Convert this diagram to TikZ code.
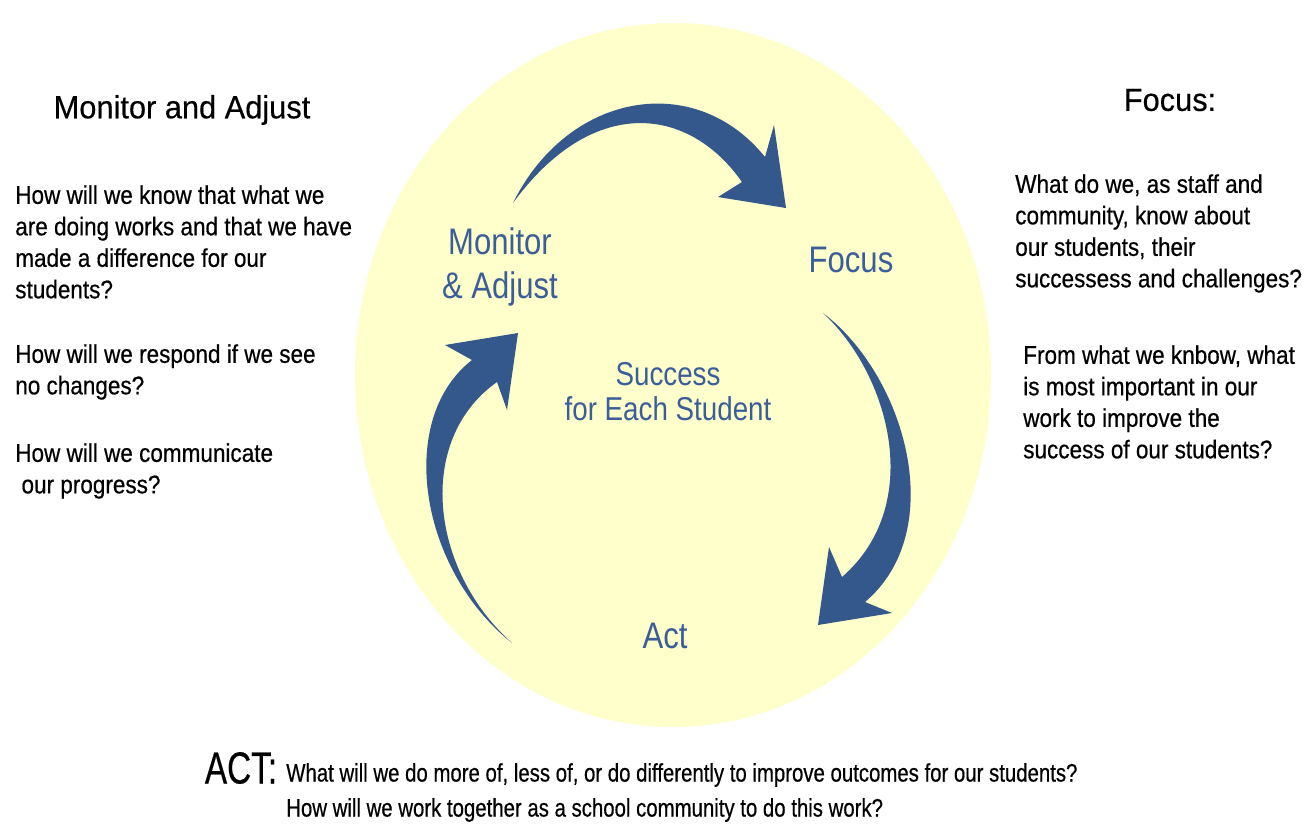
\documentclass[tikz,border=0pt]{standalone}
\usepackage{fontspec}
\setmainfont[FakeStretch=0.88, FakeBold=0.5]{Liberation Sans}
\newfontfamily\headfont[FakeStretch=0.96, FakeBold=0.4]{Liberation Sans}
\newfontfamily\cyclefont[FakeStretch=0.84]{Liberation Sans}
\newfontfamily\actfont[FakeStretch=0.74, FakeBold=0.4]{Liberation Sans}
\newfontfamily\bottomfont[FakeStretch=0.805, FakeBold=0.5]{Liberation Sans}
\usetikzlibrary{positioning}

\definecolor{cycleyellow}{HTML}{FFFFCC}
\definecolor{arrowblue}{HTML}{34578C}
\definecolor{labelblue}{HTML}{3B5E99}

\tikzset{
  question/.style={anchor=north west, inner sep=0pt, align=left,
    font=\fontsize{18.2pt}{22.4pt}\selectfont},
  heading/.style={inner sep=0pt, font=\headfont\fontsize{22.8pt}{27pt}\selectfont},
  stage/.style={inner sep=0pt, align=center, text=labelblue,
    font=\cyclefont\fontsize{26.3pt}{31.3pt}\selectfont},
  bentarrow/.style={fill=arrowblue},
}

\begin{document}
\begin{tikzpicture}[x=0.025cm, y=-0.025cm]
    \useasboundingbox (0,0) rectangle (1304,824);
    \fill[white] (0,0) rectangle (1304,824);

    % the yellow cycle
    \fill[cycleyellow] (673,375) ellipse [x radius=318, y radius=352];

    % three tapered arrows going round clockwise
    \fill[bentarrow] (513,203) .. controls (568,92) and (695,70) .. (765,157)
        -- (774,125) -- (786,208) -- (718,197) -- (742,182)
        .. controls (688,105) and (592,95) .. (513,203) -- cycle;
    \fill[bentarrow] (823,313) .. controls (905,375) and (950,530) .. (865,602)
        -- (892,613) -- (818,625) -- (829,547) -- (842,577)
        .. controls (925,505) and (890,375) .. (823,313) -- cycle;
    \fill[bentarrow] (512,643) .. controls (420,570) and (395,420) .. (472,360)
        -- (445,345) -- (518,333) -- (507,410) -- (497,382)
        .. controls (415,440) and (430,570) .. (512,643) -- cycle;

    % stage names inside the cycle
    \node[stage] (monitor) at (500,267) {Monitor\\\& Adjust};
    \node[stage] (focus) at (851,260) {Focus};
    \node[stage] (act) at (665,636) {Act};
    \node[stage, font=\cyclefont\fontsize{23.5pt}{25pt}\selectfont] (success) at (668,392)
        {Success\\for Each Student};

    % left column
    \node[heading] (monitorhead) at (182,110) {Monitor and Adjust};
    \node[question] (know) at (15,185) {How will we know that what we\\are doing works and that we have\\made a difference for our\\students?};
    \node[question] (respond) at (15,344) {How will we respond if we see\\no changes?};
    \node[question] (communicate) at (15,443) {How will we communicate\\\ our progress?};

    % right column
    \node[heading] (focushead) at (1170,100) {Focus:};
    \node[question] (staff) at (1015,174) {What do we, as staff and\\community, know about\\our students, their\\successess and challenges?};
    \node[question] (important) at (1023,345) {From what we knbow, what\\is most important in our\\work to improve the\\success of our students?};

    % bottom line
    \node[inner sep=0pt, font=\actfont\fontsize{32pt}{34pt}\selectfont] (acthead) at (241,768) {ACT:};
    \node[anchor=west, inner sep=0pt, font=\bottomfont\fontsize{18pt}{20pt}\selectfont] (more) at (286,775)
        {What will we do more of, less of, or do differently to improve outcomes for our students?};
    \node[anchor=west, inner sep=0pt, font=\bottomfont\fontsize{18pt}{20pt}\selectfont] (together) at (286,810)
        {How will we work together as a school community to do this work?};
\end{tikzpicture}
\end{document}
